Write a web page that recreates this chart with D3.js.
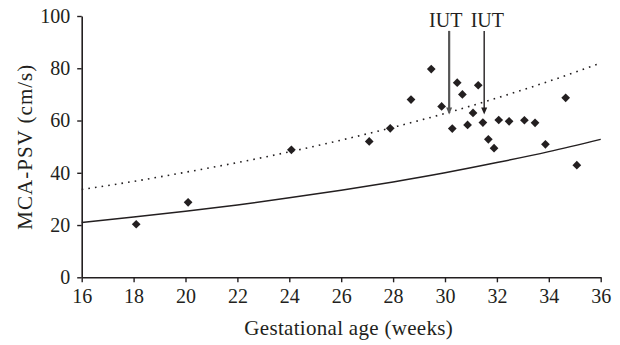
<!DOCTYPE html>
<html>
<head>
<meta charset="utf-8">
<script src="https://cdn.jsdelivr.net/npm/d3@7"></script>
</head>
<body style="margin:0;background:#fff">
<svg id="chart" width="620" height="345" style="display:block"></svg>
<script>
// Measured points: gestational age (weeks) and MCA-PSV (cm/s)
const gaWeeks = [18.10, 20.10, 24.08, 27.08, 27.89, 28.69, 29.47, 29.87, 30.28, 30.47, 30.67, 30.87,
                 31.08, 31.28, 31.46, 31.67, 31.89, 32.07, 32.47, 33.06, 33.47, 33.87, 34.65, 35.08];
const psvValues = [20.3, 28.7, 48.8, 52.0, 57.0, 68.0, 79.7, 65.4, 56.9, 74.5, 70.0, 58.3,
                   62.9, 73.5, 59.2, 52.8, 49.4, 60.2, 59.7, 60.1, 59.1, 50.9, 68.7, 42.9];

// Reference curves at even weeks
const curveWeeks = [16, 18, 20, 22, 24, 26, 28, 30, 32, 34, 36];
const medianCurve = [21.0, 23.1, 25.3, 27.7, 30.4, 33.3, 36.5, 40.0, 43.9, 48.1, 52.8];
const upperCurve = [33.6, 36.7, 40.2, 43.9, 48.0, 52.5, 57.4, 62.7, 68.6, 75.0, 82.0];

// IUT annotations
const iutWeeks = [30.16, 31.51];
const iutLabelWeeks = [30.03, 31.63];
const iutLabels = ["IUT", "IUT"];
const iutTipValue = 62.3;
const iutTopValue = 94.3;

const xTicks = [16, 18, 20, 22, 24, 26, 28, 30, 32, 34, 36];
const yTicks = [0, 20, 40, 60, 80, 100];

const FONT = "'Liberation Serif'";
const svg = d3.select("#chart");
const margin = { left: 81.7, right: 19.3, top: 16, bottom: 67.7 };
const W = 620, H = 345;

const x = d3.scaleLinear().domain([16, 36]).range([margin.left, W - margin.right]);
const y = d3.scaleLinear().domain([0, 100]).range([H - margin.bottom, margin.top]);

const ink = "#231f20";

// Axes
const xAxis = d3.axisBottom(x).tickValues(xTicks).tickSize(5).tickSizeOuter(0).tickPadding(6);
const yAxis = d3.axisLeft(y).tickValues(yTicks).tickSize(4.5).tickSizeOuter(0).tickPadding(7);

const gx = svg.append("g").attr("transform", `translate(0,${y(0)})`).call(xAxis);
const gy = svg.append("g").attr("transform", `translate(${x(16)},0)`).call(yAxis);

[gx, gy].forEach(g => {
  g.attr("font-family", null).attr("font-size", null);
  g.select(".domain").attr("stroke", ink).attr("stroke-width", 1.6);
  g.selectAll(".tick line").attr("stroke", ink).attr("stroke-width", 1.4);
  g.selectAll(".tick text")
    .style("font-family", FONT)
    .style("font-size", "20px")
    .attr("fill", ink);
});
gx.selectAll(".tick text").attr("dy", "0.72em");

// Curves
const line = d3.line().x((d, i) => x(curveWeeks[i])).y(d => y(d)).curve(d3.curveMonotoneX);

svg.append("path")
  .datum(upperCurve)
  .attr("d", line)
  .attr("fill", "none")
  .attr("stroke", ink)
  .attr("stroke-width", 1.6)
  .attr("stroke-dasharray", "1.6,5.1");

svg.append("path")
  .datum(medianCurve)
  .attr("d", line)
  .attr("fill", "none")
  .attr("stroke", ink)
  .attr("stroke-width", 1.5);

// Points
const diamond = d3.symbol().type(d3.symbolSquare).size(38);
svg.append("g").selectAll("path")
  .data(gaWeeks)
  .join("path")
  .attr("d", diamond)
  .attr("transform", (d, i) => `translate(${x(d)},${y(psvValues[i])}) rotate(45)`)
  .attr("fill", ink);

// IUT arrows
const arrowStyles = [{ stroke: "#555", width: 2.2 }, { stroke: ink, width: 1.4 }];
iutWeeks.forEach((w, i) => {
  const px = x(w);
  const tipY = y(iutTipValue);
  const topY = y(iutTopValue);
  svg.append("line")
    .attr("x1", px).attr("x2", px)
    .attr("y1", topY).attr("y2", tipY - 5)
    .attr("stroke", arrowStyles[i].stroke)
    .attr("stroke-width", arrowStyles[i].width);
  svg.append("path")
    .attr("d", `M${px - 3},${tipY - 7} L${px + 3},${tipY - 7} L${px},${tipY} Z`)
    .attr("fill", arrowStyles[i].stroke);
  svg.append("text")
    .attr("x", x(iutLabelWeeks[i]))
    .attr("y", topY - 3.5)
    .attr("text-anchor", "middle")
    .style("font-family", FONT)
    .style("font-size", "20px")
    .attr("fill", ink)
    .text(iutLabels[i]);
});

// Axis titles
svg.append("text")
  .attr("x", 348.7)
  .attr("y", 335)
  .attr("text-anchor", "middle")
  .style("font-family", FONT)
  .style("font-size", "21px")
  .style("letter-spacing", "0.3px")
  .attr("fill", ink)
  .text("Gestational age (weeks)");

svg.append("text")
  .attr("transform", `translate(32,146.7) rotate(-90)`)
  .attr("text-anchor", "middle")
  .style("font-family", FONT)
  .style("font-size", "21px")
  .style("letter-spacing", "1px")
  .attr("fill", ink)
  .text("MCA-PSV (cm/s)");
</script>
</body>
</html>
